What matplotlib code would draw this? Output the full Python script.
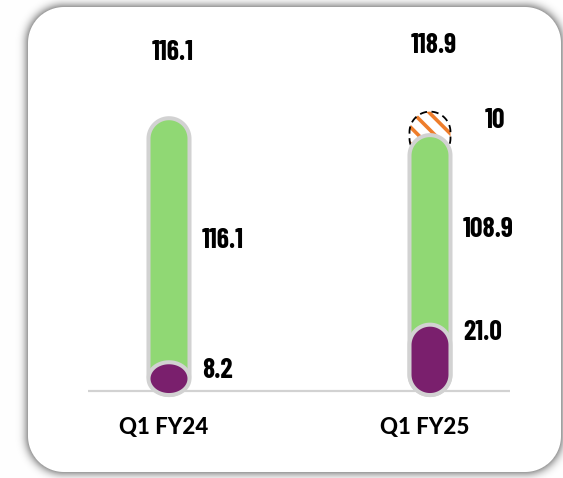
import math
import numpy as np
import matplotlib
matplotlib.use('Agg')
import matplotlib.pyplot as plt
from matplotlib.patches import Polygon

# quarters and the pieces of each column
quarters = ['Q1 FY24', 'Q1 FY25']
base_vals = [8.2, 21.0]        # purple bottom segment
core_vals = [116.1, 108.9]     # green column
extra_vals = [0, 10]           # hatched top piece
totals = [116.1, 118.9]

green = '#90d874'
purple = '#7a1f6d'
rim = '#d2d2d2'
orange = '#ee7d2b'

plt.rcParams['hatch.linewidth'] = 2.6
num_font = ['Barlow Condensed', 'DejaVu Sans']
cat_font = ['Lato', 'DejaVu Sans']

W, H = 563, 478
fig = plt.figure(figsize=(W / 100, H / 100), dpi=100)

# card background: rounded white panel with a soft grey shadow
yy, xx = np.mgrid[0:H, 0:W] + 0.5


def rrect_dist(x0, y0, x1, y1, r):
    cx, cy = (x0 + x1) / 2, (y0 + y1) / 2
    qx = np.abs(xx - cx) - ((x1 - x0) / 2 - r)
    qy = np.abs(yy - cy) - ((y1 - y0) / 2 - r)
    out = np.hypot(np.maximum(qx, 0), np.maximum(qy, 0))
    return out + np.minimum(np.maximum(qx, qy), 0) - r


d = rrect_dist(28, 7, 561, 472, 36)
erf = np.vectorize(math.erf)
shadow = 0.8 * 0.5 * (1 - erf(d / (5 * math.sqrt(2))))
card = np.clip(0.5 - d, 0, 1)
gray = card + (1 - card) * (1 - shadow)
fig.figimage(np.dstack([gray] * 3), 0, 0, origin='upper')

ax = fig.add_axes([0, 0, 1, 1])
ax.set_zorder(1)
ax.set_xlim(-0.6475, 1.5096)
ax.set_ylim(-37.0, 166.4)
ax.axis('off')

# pixels per data unit, used to keep the rounded ends circular
sx = W / (ax.get_xlim()[1] - ax.get_xlim()[0])
sy = H / (ax.get_ylim()[1] - ax.get_ylim()[0])
bar_w = 41 / sx
sink = 1.7


def capsule(x, y0, y1, **kw):
    rx = bar_w / 2
    ry = min(rx * sx, (y1 - y0) * sy / 2) / sy
    t = np.linspace(0, np.pi, 60)
    top = np.column_stack([x + rx * np.cos(t), y1 - ry + ry * np.sin(t)])
    bot = np.column_stack([x - rx * np.cos(t), y0 + ry - ry * np.sin(t)])
    return ax.add_patch(Polygon(np.vstack([top, bot]), closed=True, **kw))


def num_label(x, y, s, ha='left'):
    ax.text(x, y, s, ha=ha, va='center', fontsize=20, fontweight='bold',
            family=num_font, zorder=6)


ax.plot([-0.31, 1.306], [0, 0], color=rim, lw=1.6, zorder=1, solid_capstyle='butt')

lw = 2.9
for i, q in enumerate(quarters):
    x = i
    core = core_vals[i]
    if extra_vals[i]:
        top = core + extra_vals[i]
        capsule(x, core - 10, top, facecolor='white', edgecolor=orange,
                hatch='\\\\', lw=0, zorder=2)
        capsule(x, core - 10, top, fill=False, edgecolor='black',
                lw=1.3, ls=(0, (4, 2.5)), zorder=2.1)
        num_label(x + 55 / sx, core + extra_vals[i] * 0.64, f'{extra_vals[i]}')
    capsule(x, -sink, core, facecolor=green, edgecolor=rim, lw=lw, zorder=3)
    # purple cap sits a little above its value so its rounded end shows
    b_top = base_vals[i] * 1.25 + 2
    capsule(x, -sink, b_top, facecolor=purple, edgecolor=rim, lw=lw, zorder=4)

    num_label(x + 33 / sx, (b_top + core) / 2, f'{core:.1f}')
    num_label(x + 33 / sx, b_top - 3.5, f'{base_vals[i]:.1f}')
    num_label(x + 4 / sx, totals[i] + 28, f'{totals[i]:.1f}', ha='center')
    ax.text(x - 5 / sx, -15.5, q, ha='center', va='center', fontsize=16,
            fontweight=900, family=cat_font)

fig.savefig('out.png', dpi=100)
